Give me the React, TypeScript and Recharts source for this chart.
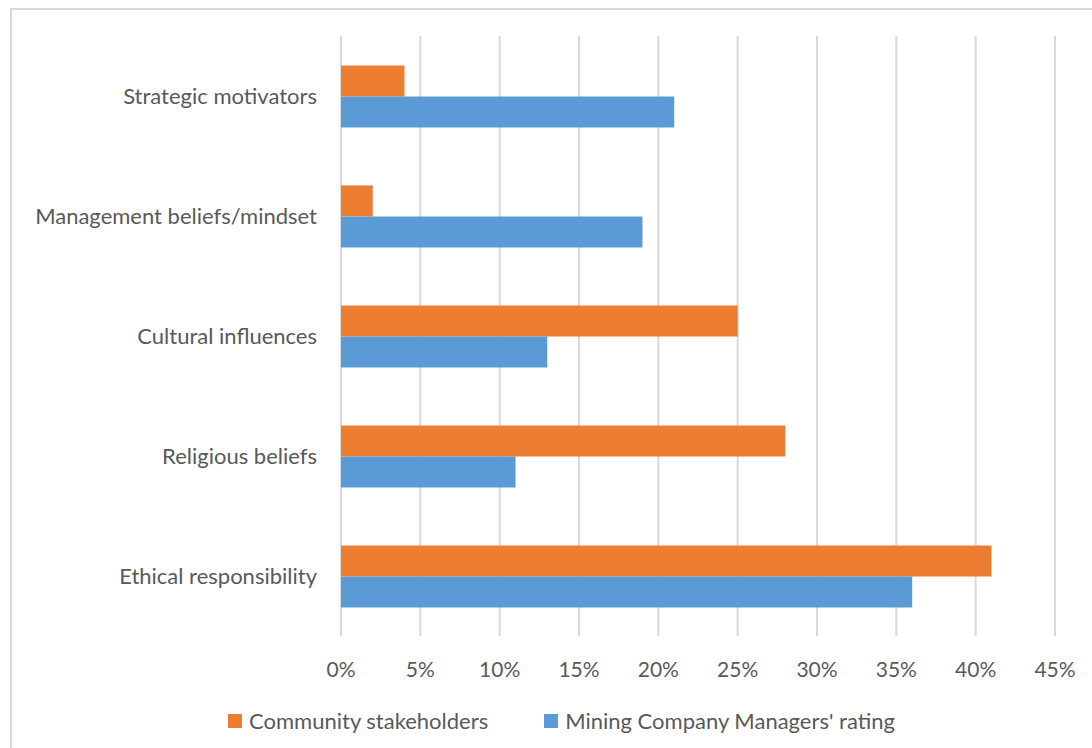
import { BarChart, Bar, XAxis, YAxis, CartesianGrid, Legend } from "recharts"

const categories = [
  "Strategic motivators",
  "Management beliefs/mindset",
  "Cultural influences",
  "Religious beliefs",
  "Ethical responsibility",
]
const community = [4, 2, 25, 28, 41]
const managers = [21, 19, 13, 11, 36]
const xTicks = [0, 5, 10, 15, 20, 25, 30, 35, 40, 45]

const seriesNames = ["Community stakeholders", "Mining Company Managers' rating"]
const colors = ["#ED7D31", "#5B9BD5"]

const rows = categories.map((name, i) => ({
  name,
  community: community[i],
  managers: managers[i],
}))

const font = "Lato, 'Open Sans', sans-serif"
const textColor = "#595959"

function LegendBox() {
  return (
    <div
      style={{
        display: "flex",
        justifyContent: "center",
        gap: 56,
        fontFamily: font,
        fontSize: 22,
        lineHeight: "26px",
        color: textColor,
        transform: "translateX(34px)",
      }}
    >
      {seriesNames.map((s, i) => (
        <div key={s} style={{ display: "flex", alignItems: "center", gap: 7 }}>
          <span style={{ width: 14, height: 14, background: colors[i], display: "inline-block" }} />
          <span>{s}</span>
        </div>
      ))}
    </div>
  )
}

export default function App() {
  return (
    <div style={{ position: "absolute", left: 0, top: 0, width: 1092, height: 748, background: "#fff", overflow: "hidden" }}>
      <div
        style={{
          position: "absolute",
          left: 10,
          top: 8,
          width: 1200,
          height: 900,
          borderTop: "2px solid #D9D9D9",
          borderLeft: "2px solid #D9D9D9",
        }}
      />
      <div style={{ position: "absolute", left: 0, top: 0 }}>
        <BarChart
          width={1092}
          height={748}
          data={rows}
          layout="vertical"
          margin={{ top: 36, right: 37, left: 0, bottom: 14 }}
          barCategoryGap="24.5%"
          barGap={0}
        >
          <CartesianGrid horizontal={false} stroke="#D9D9D9" strokeWidth={2} />
          <XAxis
            type="number"
            domain={[0, 45]}
            ticks={xTicks}
            interval={0}
            axisLine={false}
            tickLine={false}
            tickMargin={20}
            height={72}
            tickFormatter={(v: number) => `${v}%`}
            tick={{ fill: textColor, fontFamily: font, fontSize: 21 }}
          />
          <YAxis
            type="category"
            dataKey="name"
            width={341}
            axisLine={false}
            tickLine={false}
            tickMargin={18}
            tick={{ fill: textColor, fontFamily: font, fontSize: 22 }}
          />
          <Legend verticalAlign="bottom" content={() => <LegendBox />} />
          <Bar dataKey="community" name={seriesNames[0]} fill={colors[0]} isAnimationActive={false} />
          <Bar dataKey="managers" name={seriesNames[1]} fill={colors[1]} isAnimationActive={false} />
        </BarChart>
      </div>
    </div>
  )
}
